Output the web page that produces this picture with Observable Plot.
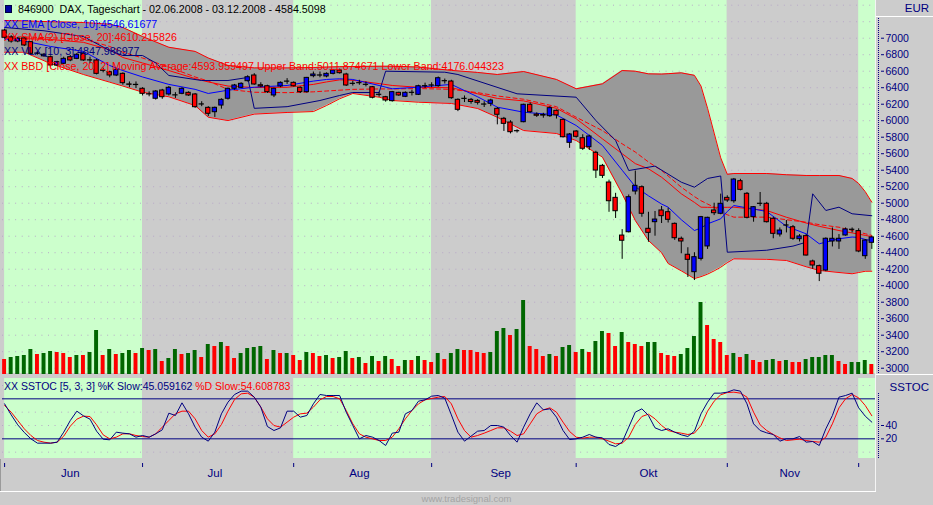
<!DOCTYPE html>
<html><head><meta charset="utf-8">
<script src="https://cdn.jsdelivr.net/npm/d3@7"></script>
<script src="https://cdn.jsdelivr.net/npm/@observablehq/plot@0.6"></script>
<style>
html,body{margin:0;padding:0;background:#cccccc;}
#chart{position:relative;width:933px;height:505px;background:#cccccc;overflow:hidden;font-family:"Liberation Sans",Arial,sans-serif;}
#chart svg{position:absolute;left:0;}
</style></head><body><div id="chart"></div>
<script>
// ---- Daily candles DAX 02.06.2008 - 03.12.2008 (trading day index 0..132) ----
const open = [7093,7010,6960,6997,6952,6811,6780,6770,6669,6690,
6770,6750,6811,6732,6730,6605,6588,6548,6568,6440,
6435,6387,6320,6266,6366,6318,6308,6326,6338,6318,
6198,6156,6103,6184,6266,6387,6399,6479,6548,6430,
6418,6306,6415,6473,6459,6399,6346,6540,6547,6536,
6568,6608,6560,6446,6454,6434,6406,6313,6285,6237,
6338,6290,6337,6314,6417,6426,6418,6478,6475,6253,
6264,6253,6240,6195,6205,6144,6023,5978,5872,5982,
6193,6075,6070,6055,6120,6010,5732,5869,5788,5679,
5611,5453,5251,5065,4608,4648,5142,5194,4690,4770,
4912,4891,4750,4569,4375,4164,4326,4476,4912,4872,
5065,5024,5267,5114,4831,4992,4993,4811,4621,4729,
4709,4564,4601,4294,4237,4184,4536,4536,4609,4677,
4662,4358,4520];
const close = [7005,6960,6995,6912,6811,6815,6800,6669,6709,6750,
6730,6799,6730,6730,6568,6608,6548,6617,6455,6435,
6432,6326,6318,6354,6285,6399,6306,6387,6306,6164,
6196,6084,6156,6253,6387,6427,6447,6527,6439,6415,
6346,6387,6459,6475,6418,6346,6519,6560,6549,6568,
6608,6576,6427,6448,6456,6436,6278,6315,6245,6346,
6306,6338,6339,6418,6419,6428,6515,6480,6273,6132,
6266,6227,6217,6197,6245,6072,5962,5861,5874,6193,
6103,6060,6062,6152,6065,5800,5833,5805,5660,5809,
5396,5332,5024,4903,4545,5073,5211,4872,4641,4802,
4843,4799,4576,4536,4314,4346,4831,4823,4879,4993,
5033,5287,5162,4823,4952,4994,4770,4629,4669,4731,
4569,4597,4366,4245,4145,4569,4569,4569,4682,4679,
4415,4548,4585];
const high = [7110,7030,7010,7010,6960,6830,6815,6785,6720,6770,
6790,6815,6830,6770,6745,6640,6600,6630,6580,6470,
6470,6400,6350,6365,6380,6415,6340,6400,6350,6330,
6230,6170,6165,6266,6395,6440,6460,6545,6570,6460,
6430,6395,6470,6510,6470,6410,6525,6590,6590,6580,
6620,6625,6575,6480,6490,6470,6415,6345,6295,6355,
6345,6350,6370,6430,6455,6460,6530,6505,6490,6265,
6300,6270,6255,6230,6260,6160,6040,6000,5890,6200,
6215,6095,6090,6170,6130,6020,5845,5880,5830,5825,
5630,5470,5280,5120,4680,5100,5390,5210,4890,4900,
4960,4940,4760,4590,4460,4400,4840,4830,5000,5110,
5090,5300,5290,5130,4960,5130,5010,4830,4700,4790,
4730,4620,4620,4310,4250,4580,4700,4620,4700,4700,
4690,4560,4600];
const low = [6990,6940,6945,6900,6790,6795,6770,6650,6655,6680,
6715,6740,6720,6690,6555,6580,6520,6535,6430,6400,
6390,6300,6290,6250,6260,6300,6270,6315,6295,6150,
6170,6050,6040,6140,6250,6370,6390,6470,6430,6400,
6330,6280,6400,6440,6410,6330,6335,6520,6520,6520,
6555,6565,6415,6420,6430,6410,6265,6285,6225,6225,
6295,6280,6300,6305,6390,6400,6405,6445,6260,6110,
6220,6200,6190,6160,6170,5950,5870,5840,5850,5975,
6090,6040,6030,6040,6020,5790,5665,5790,5640,5640,
5300,5300,4890,4815,4320,4640,5100,4830,4527,4600,
4754,4760,4550,4387,4100,4063,4300,4440,4850,4860,
5010,5000,5150,4810,4770,4960,4760,4569,4590,4640,
4550,4530,4360,4200,4050,4170,4470,4440,4600,4640,
4400,4320,4440];
// volume (relative units) and bar colour (G = green, R = red)
const volume = [45,51,54,57,75,60,63,69,66,63,
51,57,57,66,132,57,75,60,63,72,
63,78,72,75,39,48,75,60,63,72,
51,90,84,96,84,48,63,78,81,84,
45,72,63,63,57,42,66,63,54,57,
48,51,69,48,51,33,54,39,54,45,
24,42,42,54,42,36,63,45,63,75,
72,72,66,63,66,129,138,117,135,222,
84,75,54,60,54,81,87,66,75,66,
99,129,123,84,126,96,90,84,96,96,
63,57,54,60,78,114,216,147,105,96,
57,63,51,60,42,36,42,45,39,42,
36,36,45,51,51,57,57,39,30,36,
36,42,30];
const volColor = ("RGGGGRGGRRRGRGGRGRGGRGRGRGGRGGRGRGRRGGGGRGRGRRGRRGRGGRGRGRGRRGRGRRG" +
                  "RGGRRRRGGGRGGRRRGRGGRGRGGRRGRRRGGRRRGGGGRRRRGRGRRGGRGRRGGGGGRRGGGR").split("");
// ---- indicators ----
const indDays = [0,3,7,12,16,18,21,25,29,31,34,38,43,47,49,51,53,57,59,63,68,72,75,79,84,87,91,94,96,98,100,101,103,105,106,107,108,109,110,111,116,119,122,124,127,129,130,131,132];
const bbUpper = [7215,7210,7200,7190,7170,7130,7020,6890,6840,6760,6670,6640,6640,6645,6650,6655,6657,6660,6660,6650,6610,6585,6560,6596,6500,6387,6447,6608,6600,6568,6565,6570,6580,6550,6420,6150,5850,5550,5350,5360,5360,5345,5336,5336,5336,5300,5239,5140,5012];
const bbLower = [6830,6830,6693,6560,6467,6420,6346,6290,6184,6042,6002,6080,6100,6111,6184,6266,6330,6285,6245,6224,6209,6148,6042,5881,5845,5760,5558,5114,4790,4548,4400,4269,4180,4087,4110,4140,4180,4224,4280,4326,4320,4306,4230,4185,4160,4145,4160,4175,4176];
const bbMid = [7000,6995,6985,6950,6860,6766,6700,6608,6510,6470,6420,6402,6405,6440,6470,6495,6490,6450,6427,6405,6400,6326,6270,6240,6150,6023,5780,5600,5480,5417,5315,5250,5114,5010,4952,4950,4950,4950,4950,4952,4912,4830,4760,4720,4669,4640,4625,4610,4594];
const sma20 = [7020,7015,7005,6990,6900,6830,6760,6650,6530,6480,6380,6345,6340,6350,6360,6370,6380,6385,6385,6390,6380,6340,6300,6260,6170,6042,5880,5720,5620,5500,5396,5330,5194,5080,5030,4990,4952,4900,4860,4831,4831,4800,4770,4740,4709,4670,4650,4630,4610];
const ema10 = [6990,6965,6900,6840,6669,6608,6530,6440,6380,6330,6370,6406,6427,6480,6500,6508,6500,6427,6387,6406,6440,6290,6164,6103,6070,5942,5700,5400,5200,5090,4990,4952,4800,4669,4700,4750,4780,4811,4900,4972,4900,4720,4629,4508,4569,4590,4585,4560,4547];
const vlxDays = [0,6,12,16,18,21,23,25,30,34,37,38,43,48,51,53,57,58,67,69,78,87,90,93,95,99,103,105,107,109,110,116,120,122,123,125,127,129,132];
const vlx = [7130,7090,7020,6850,6790,6790,6700,6548,6487,6487,6524,6150,6170,6245,6306,6342,6342,6600,6588,6560,6326,6285,6002,5760,5396,5450,5255,5194,5300,5330,4406,4430,4480,4527,5114,4912,4952,4872,4848];
const stochK = [72.5,56,41,29.5,20,13.5,13.5,13.5,15,30,
47.5,61.5,54.5,49.5,31.5,19.5,18.5,30,28.5,27.5,
22.5,25,22.5,27.5,33.5,58.5,55,74,57.5,37.5,
22.5,16.5,30,57.5,75,86.5,91.5,91.5,82.5,67.5,
38.5,32.5,36.5,61.5,61.5,52.5,55,72.5,86.5,85,
85,85,60,40,20,25,22.5,17.5,10,28.5,
30,57.5,62.5,76.5,78.5,84,85,81,56,30,
16.5,24,31.5,32.5,40,40,37.5,25,15,37.5,
57.5,74,63.5,65,52.5,32.5,19,20,22.5,26.5,
22.5,21.5,11.5,8.5,15,37.5,60,65,55,36.5,
32.5,35,30,26,23.5,31.5,57.5,75,88.5,88.5,
90,93.5,91.5,72.5,42.5,32.5,29,26.5,16.5,20,
20,23.5,15,16,10,35,55,82.5,85,88.5,
66.5,54,45.06];
const stochD = [70,60,47.5,35,25,17.5,15,13.5,15,24,
39,49.5,54,53.5,41,26,20,22.5,27.5,27.5,
25,23.5,22.5,27.5,37.5,47.5,57.5,61.5,61.5,50,
32.5,22.5,27.5,41.5,61.5,79,87.5,88.5,82.5,67.5,
50,40,37.5,45,52.5,57.5,58.5,67.5,78.5,83.5,
83.5,80,62.5,42.5,27.5,22.5,20,17.5,17.5,22.5,
35,50,62.5,72.5,78.5,80.5,82.5,83.5,72.5,50,
32.5,22.5,25,28.5,32.5,36.5,36.5,31.5,25,27.5,
42.5,57.5,63.5,66.5,60,45,31,22.5,21,22.5,
22.5,20,16.5,12.5,13.5,22.5,41.5,53.5,57,50,
40,32.5,30,28.5,26.5,28.5,40,61.5,76.5,86,
89.5,90,88.5,82.5,60,41,32.5,26.5,21.5,17.5,
18.5,19.5,17.5,16,15,22.5,42.5,66.5,80,86.5,
81.5,70,54.61];
// ---- month structure / ticks ----
const monthStart = [0,21,44,65,87,110,130];
const monthMid = [10,32,54,75.5,98,119.5];
const monthLabels = ["Jun","Jul","Aug","Sep","Okt","Nov"];
const priceTicks = [3000,3200,3400,3600,3800,4000,4200,4400,4600,4800,5000,5200,5400,5600,5800,6000,6200,6400,6600,6800,7000];
const priceGrid = [3000,3200,3400,3600,3800,4000,4200,4400,4600,4800,5000,5200,5400,5600,5800,6000,6200,6400,6600,6800,7000,7200,7400];
const stochTicks = [20,40];

// ---- build ----
const chart = document.getElementById("chart");
const N = close.length;
const xDomain = [-0.32, 132.56];
const bars = d3.range(N).map(i => ({i, o: open[i], h: high[i], l: low[i], c: close[i], v: volume[i], vc: volColor[i]}));
const months = monthStart.map((s, k) => ({x1: s, x2: k + 1 < monthStart.length ? monthStart[k + 1] : xDomain[1], fill: k % 2 === 0 ? "#ccffcc" : "#cccccc"}));
const ind = indDays.map((d, k) => ({d, up: bbUpper[k], lo: bbLower[k], mid: bbMid[k], sma: sma20[k], ema: ema10[k]}));
const vlxRows = vlxDays.map((d, k) => ({d, v: vlx[k]}));
const stRows = d3.range(N).map(i => ({i, k: stochK[i], d: stochD[i]}));
const candleFill = b => Math.abs(b.c - b.o) < 4 ? "#000000" : (b.c > b.o ? "#0000ff" : "#ff0000");
const FONT = "Liberation Sans, Arial, sans-serif";
const dots = {stroke: "#b8a8c8", strokeDasharray: "1,5.57", strokeWidth: 1};

const main = Plot.plot({
  width: 933, height: 376, marginLeft: 2, marginRight: 58, marginTop: 0, marginBottom: 3,
  style: {background: "transparent", color: "#000080", fontFamily: FONT, fontSize: "10.5px"},
  x: {domain: xDomain, axis: null},
  y: {domain: [2936, 7457], axis: null},
  marks: [
    Plot.rect(months, {x1: "x1", x2: "x2", fill: "fill"}),
    Plot.ruleY(priceGrid, dots),
    Plot.areaY(ind, {x: "d", y1: "lo", y2: "up", fill: "#999999"}),
    Plot.line(ind, {x: "d", y: "up", stroke: "#ff0000", strokeWidth: 1}),
    Plot.line(ind, {x: "d", y: "lo", stroke: "#ff0000", strokeWidth: 1}),
    Plot.line(ind, {x: "d", y: "mid", stroke: "#ff0000", strokeWidth: 1}),
    Plot.line(ind, {x: "d", y: "sma", stroke: "#ff0000", strokeWidth: 1, strokeDasharray: "4,3"}),
    Plot.line(vlxRows, {x: "d", y: "v", stroke: "#000080", strokeWidth: 1}),
    Plot.line(ind, {x: "d", y: "ema", stroke: "#0000ff", strokeWidth: 1}),
    Plot.ruleX(bars, {x: "i", y1: "l", y2: "h", stroke: "#000000", strokeWidth: 1}),
    Plot.rect(bars, {x1: b => b.i - 0.33, x2: b => b.i + 0.33, y1: "o", y2: "c", fill: candleFill, stroke: "#000000", strokeWidth: 1}),
    Plot.axisY({anchor: "right", ticks: priceTicks, tickSize: 3, tickPadding: 2, dx: 5, tickFormat: d => String(d), label: null, fontSize: 10.5})
  ]
});
main.style.top = "0px";
chart.appendChild(main);

const vol = Plot.plot({
  width: 933, height: 376, marginLeft: 2, marginRight: 58, marginTop: 0, marginBottom: 2,
  style: {background: "transparent"},
  x: {domain: xDomain, axis: null},
  y: {domain: [0, 1122], axis: null},
  marks: [
    Plot.rect(bars, {x1: b => b.i - 0.3, x2: b => b.i + 0.3, y1: 0, y2: "v", fill: b => b.vc === "G" ? "#006600" : "#ff0000"})
  ]
});
vol.style.top = "0px";
chart.appendChild(vol);

const st = Plot.plot({
  width: 933, height: 113, marginLeft: 2, marginRight: 58, marginTop: 0, marginBottom: 33,
  style: {background: "transparent", color: "#000080", fontFamily: FONT, fontSize: "10.5px"},
  x: {domain: xDomain, axis: null},
  y: {domain: [-9.5, 110.5], axis: null},
  marks: [
    Plot.rect(months, {x1: "x1", x2: "x2", fill: "fill"}),
    Plot.ruleY([0, 40, 60, 100], dots),
    Plot.ruleY([20, 80], {stroke: "#000080", strokeWidth: 1}),
    Plot.line(stRows, {x: "i", y: "d", stroke: "#ff0000", strokeWidth: 1}),
    Plot.line(stRows, {x: "i", y: "k", stroke: "#000080", strokeWidth: 1}),
    Plot.axisY({anchor: "right", ticks: stochTicks, tickSize: 3, tickPadding: 2, dx: 5, tickFormat: d => String(d), label: null, fontSize: 10.5}),
    Plot.axisX({ticks: monthStart, tickSize: 4, dy: 5, tickFormat: () => "", label: null, stroke: "#000080"}),
    Plot.text(monthLabels, {x: (d, i) => monthMid[i], text: d => d, frameAnchor: "bottom", dy: 18.5, fill: "#000080", fontSize: 11.5})
  ]
});
st.style.top = "378px";
chart.appendChild(st);

// ---- overlays: headers, legend texts, borders ----
function add(html, css) { const e = document.createElement("div"); e.innerHTML = html; e.style.cssText = css; chart.appendChild(e); return e; }
const TXT = "position:absolute;white-space:pre;font-size:10.7px;line-height:13px;";
add("", "position:absolute;left:875px;top:0;width:1px;height:492px;background:#f4f4f4;");
add("", "position:absolute;left:876px;top:16px;width:57px;height:1px;background:#ffffff;");
add("", "position:absolute;left:876px;top:374px;width:57px;height:1px;background:#ffffff;");
add("", "position:absolute;left:878px;top:18px;width:0;height:355px;border-left:1px dotted #000080;");
add("", "position:absolute;left:878px;top:393px;width:0;height:65px;border-left:1px dotted #000080;");
add("", "position:absolute;left:0;top:459px;width:1px;height:32px;background:#9a9a9a;");
add("", "position:absolute;left:0;top:491px;width:876px;height:1px;background:#ffffff;");
add("EUR", "position:absolute;right:4px;top:2px;font-size:11.5px;line-height:13px;color:#000080;");
add("SSTOC", "position:absolute;right:4px;top:381px;font-size:11.5px;line-height:13px;color:#000080;");
add("", "position:absolute;left:5px;top:5px;width:5px;height:6px;background:#0000a0;border:1px solid #000040;");
add("846900  DAX, Tageschart - 02.06.2008 - 03.12.2008 - 4584.5098", TXT + "left:18px;top:3px;color:#000000;");
add("XX EMA [Close, 10]:4546.61677", TXT + "left:4px;top:17.5px;color:#0000ff;");
add("XX SMA(2) [Close, 20]:4610.215826", TXT + "left:4px;top:31px;color:#ff0000;");
add("XX VLX [10, 3]:4847.986977", TXT + "left:4px;top:45px;color:#000080;");
add("XX BBD [Close, 20, 2] Moving Average:4593.959497 Upper Band:5011.874671 Lower Band:4176.044323", TXT + "left:4px;top:59.5px;color:#ff0000;");
add('<span style="color:#000080">XX SSTOC [5, 3, 3] %K Slow:45.059162</span><span style="color:#ff0000"> %D Slow:54.608783</span>', TXT + "left:4px;top:379.5px;font-size:10.5px;");
add("www.tradesignal.com", "position:absolute;left:0;width:933px;text-align:center;top:493px;font-size:9.5px;line-height:11px;color:#a4a4a4;");
</script></body></html>
